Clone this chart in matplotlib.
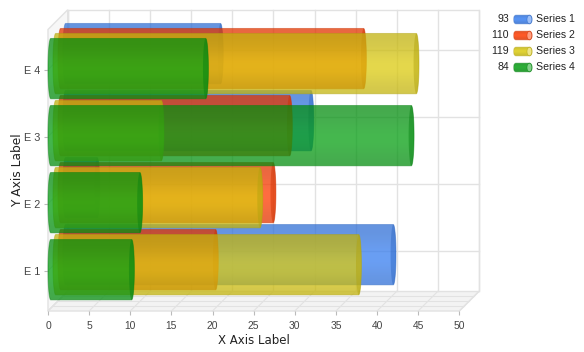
import numpy as np
import matplotlib
matplotlib.use("Agg")
import matplotlib.pyplot as plt
from matplotlib.patches import PathPatch, Polygon
from matplotlib.path import Path
from matplotlib.transforms import Affine2D, IdentityTransform

plt.rcParams["font.family"] = ["Liberation Sans", "DejaVu Sans"]
plt.rcParams["text.kerning_factor"] = 6

categories = ["E 1", "E 2", "E 3", "E 4"]
series_names = ["Series 1", "Series 2", "Series 3", "Series 4"]
series_1 = [40, 4, 30, 19]
series_2 = [19, 26, 28, 37]
series_3 = [37, 25, 13, 44]
series_4 = [10, 11, 44, 19]
all_series = [series_1, series_2, series_3, series_4]
colors = ["#387ff1", "#ff3c00", "#dccb10", "#07a014"]

W, H = 584, 352
STEP = 4.93  # pixels of depth per series
BAR = 0.9
GRID = "#e2e2e2"
PX = IdentityTransform()

fig = plt.figure(figsize=(W / 100, H / 100), dpi=100)
# front plane of the 3d box
ax = fig.add_axes([48 / W, 1 - 311 / H, 411.3 / W, 281.5 / H])
ax.set_xlim(0, 50)
ax.set_ylim(0.4, 4.6)
for s in ax.spines.values():
    s.set_visible(False)
ax.patch.set_visible(False)


def shifted(depth):
    return ax.transData + Affine2D().translate(depth * STEP, depth * STEP)


def bar_shift(depth):
    return ax.transData + Affine2D().translate(depth * 4.95, depth * 5 + 1.1)


def depth_line(x, y, **kw):
    a = ax.transData.transform((x, y))
    b = shifted(4).transform((x, y))
    ax.plot([a[0], b[0]], [a[1], b[1]], transform=PX, clip_on=False, **kw)


# walls and floor
back = shifted(4)
front = ax.transData
p_bl = front.transform((0, 0.4))
p_tl = front.transform((0, 4.6))
p_bbl = back.transform((0, 0.4))
p_btl = back.transform((0, 4.6))
p_br = front.transform((50, 0.4))
p_bbr = back.transform((50, 0.4))
p_btr = back.transform((50, 4.6))
ax.add_patch(Polygon([p_bl, p_tl, p_btl, p_bbl], transform=PX, fc="#f7f7f7", ec=GRID, lw=1, zorder=0.5, clip_on=False))
ax.add_patch(Polygon([p_bl, p_br, p_bbr, p_bbl], transform=PX, fc="#f3f3f3", ec=GRID, lw=1, zorder=0.5, clip_on=False))
ax.add_patch(Polygon([p_bbl, p_bbr, p_btr, p_btl], transform=PX, fc="white", ec=GRID, lw=1, zorder=0.6, clip_on=False))
for v in range(0, 51, 5):
    ax.plot([v, v], [0.4, 4.6], color=GRID, lw=1, transform=back, clip_on=False, zorder=0.7)
    depth_line(v, 0.4, color=GRID, lw=0.8, zorder=0.7)
for i in range(1, 5):
    ax.plot([0, 50], [i, i], color=GRID, lw=1, transform=back, clip_on=False, zorder=0.7)
    depth_line(0, i, color=GRID, lw=0.8, zorder=0.7)
for d in range(1, 4):
    ax.plot([0, 50], [0.4, 0.4], color=GRID, lw=0.8, transform=shifted(d), clip_on=False, zorder=0.7)


def shade(color, alpha):
    # vertical shading of a cylinder, lightest a little under the middle
    rgb = np.array(matplotlib.colors.to_rgb(color))
    t = np.linspace(0, 1, 64)
    f = 0.88 + 0.12 * np.exp(-((t - 0.55) / 0.3) ** 2)
    img = np.zeros((64, 1, 4))
    img[:, 0, :3] = rgb[None, :] * f[:, None]
    img[:, 0, 3] = alpha
    return img


def cylinder(a, x0, x1, y0, y1, color, trans, z, alpha=0.75, rx=0.33, dark_cap=True):
    yc = (y0 + y1) / 2
    ry = abs(y1 - y0) / 2
    th = np.linspace(np.pi / 2, -np.pi / 2, 30)
    right = np.column_stack([x1 + rx * np.cos(th), yc + ry * np.sin(th)])
    left = np.column_stack([x0 - rx * np.cos(th[::-1]), yc + ry * np.sin(th[::-1])])
    verts = np.vstack([right, left])
    path = Path(np.vstack([verts, verts[0]]), closed=True)
    clip = PathPatch(path, transform=trans, fc="none", ec="none")
    im = a.imshow(shade(color, alpha), extent=(x0 - rx, x1 + rx, yc - ry, yc + ry), aspect="auto",
                  transform=trans, zorder=z, interpolation="bilinear", origin="upper")
    im.set_clip_box(fig.bbox)
    im.set_clip_path(clip)
    # end cap
    rgb = np.array(matplotlib.colors.to_rgb(color)) * 0.8
    th2 = np.linspace(0, 2 * np.pi, 60)
    cap = np.column_stack([x1 + rx * np.cos(th2), yc + ry * np.sin(th2)])
    if dark_cap:
        cap_fc = (*rgb, 0.45)
    else:
        cap_fc = (*(0.5 * np.array(matplotlib.colors.to_rgb(color)) + 0.5), 1)
    a.add_patch(Polygon(cap, closed=True, transform=trans, fc=cap_fc, ec=(*rgb, 0.5), lw=0.6 if not dark_cap else 0,
                        zorder=z + 0.01, clip_on=False))
    a.add_patch(PathPatch(path, transform=trans, fc="none", ec=(*rgb, 0.45), lw=0.7, zorder=z + 0.02, clip_on=False))


for s, (vals, col) in enumerate(zip(all_series, colors)):
    depth = 3 - s
    for i, v in enumerate(vals):
        cylinder(ax, 0.33, v + 0.17, i + 1 - BAR / 2, i + 1 + BAR / 2, col, bar_shift(depth), 2 + s + i * 0.1)

ax.set_xlim(0, 50)
ax.set_ylim(0.4, 4.6)

ax.set_xticks(range(0, 51, 5))
ax.set_yticks([1, 2, 3, 4])
ax.set_yticklabels(categories)
ax.tick_params(axis="both", length=3, width=0.8, color="#bbbbbb", labelsize=7.4, labelcolor="#444444", pad=4)
ax.tick_params(axis="y", labelsize=7.8, pad=2.5)
ax.set_xlabel("X Axis Label", fontsize=8.5, family=["DejaVu Sans"], labelpad=2, color="#222222")
ax.set_ylabel("Y Axis Label", fontsize=8.8, family=["DejaVu Sans"], color="#222222")
ax.yaxis.set_label_coords(-0.058, 0.5)

# legend, on a pixel grid of its own
lg = fig.add_axes([0, 0, 1, 1], zorder=5)
lg.set_xlim(0, W)
lg.set_ylim(H, 0)
lg.axis("off")
for k, (name, vals, col) in enumerate(zip(series_names, all_series, colors)):
    y = 19.5 + 16 * k
    lg.text(509, y, str(sum(vals)), ha="right", va="center", fontsize=7.6, color="#222222")
    lg.text(536.5, y, name, ha="left", va="center", fontsize=7.6, color="#222222")
    cylinder(lg, 516, 529.5, y - 4.3, y + 4.3, col, lg.transData, 3, alpha=0.85, rx=2.5, dark_cap=False)
lg.set_xlim(0, W)
lg.set_ylim(H, 0)

fig.savefig("out.png", dpi=100)
